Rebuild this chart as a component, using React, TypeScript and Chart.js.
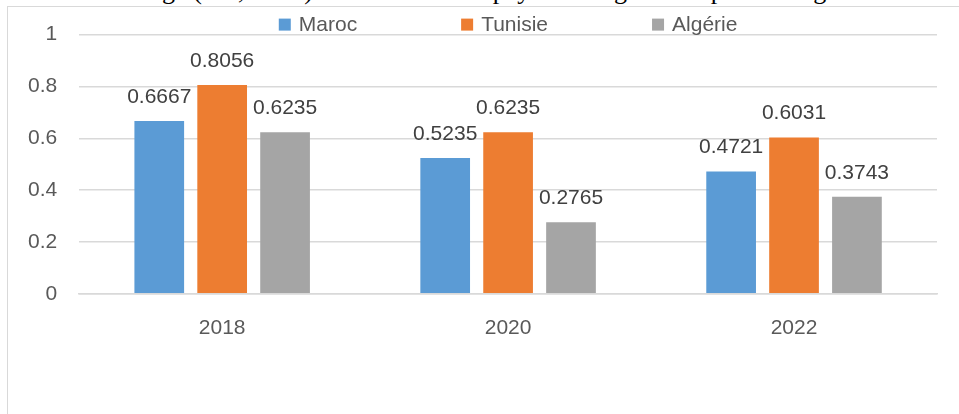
import React, { useEffect, useRef } from "react";
import { Chart, registerables } from "chart.js";

Chart.register(...registerables);

const categories = ["2018", "2020", "2022"];
const seriesNames = ["Maroc", "Tunisie", "Algérie"];
const maroc = [0.6667, 0.5235, 0.4721];
const tunisie = [0.8056, 0.6235, 0.6031];
const algerie = [0.6235, 0.2765, 0.3743];
const colors = ["#5B9BD5", "#ED7D31", "#A5A5A5"];
const yTicks = [0, 0.2, 0.4, 0.6, 0.8, 1];
const yTickLabels = ["0", "0.2", "0.4", "0.6", "0.8", "1"];
const titleText = "ge (IGI, ICHI) du Maroc et des pays du Maghreb en pourcentage";

const FONT = "'Liberation Sans', Arial, sans-serif";

const labelPlugin = {
  id: "barLabels",
  afterDatasetsDraw(chart: any) {
    const ctx = chart.ctx;
    ctx.save();
    ctx.font = `21px ${FONT}`;
    ctx.fillStyle = "#404040";
    ctx.textAlign = "center";
    ctx.textBaseline = "alphabetic";
    chart.data.datasets.forEach((ds: any, i: number) => {
      const meta = chart.getDatasetMeta(i);
      meta.data.forEach((el: any, j: number) => {
        ctx.fillText(String(ds.data[j]), el.x, el.y - 18);
      });
    });
    ctx.restore();
  },
};

const legendPlugin = {
  id: "customLegend",
  afterDraw(chart: any) {
    const ctx = chart.ctx;
    const area = chart.chartArea;
    ctx.save();
    ctx.font = `21px ${FONT}`;
    const box = 12;
    const gapText = 8;
    const gapItem = 104;
    const items = chart.data.datasets.map((ds: any) => ({
      label: ds.label,
      color: ds.backgroundColor,
      w: box + gapText + ctx.measureText(ds.label).width,
    }));
    const total = items.reduce((s: number, it: any) => s + it.w, 0) + gapItem * (items.length - 1);
    let x = (area.left + area.right) / 2 - total / 2;
    const yc = area.top - 10;
    ctx.textBaseline = "middle";
    ctx.textAlign = "left";
    items.forEach((it: any) => {
      ctx.fillStyle = it.color;
      ctx.fillRect(x, yc - box / 2, box, box);
      ctx.fillStyle = "#595959";
      ctx.fillText(it.label, x + box + gapText, yc + 1);
      x += it.w + gapItem;
    });
    ctx.restore();
  },
};

export default function App() {
  const ref = useRef<HTMLCanvasElement>(null);
  useEffect(() => {
    if (!ref.current) return;
    const data = [maroc, tunisie, algerie];
    const chart = new Chart(ref.current, {
      type: "bar",
      data: {
        labels: categories,
        datasets: seriesNames.map((name, i) => ({
          label: name,
          data: data[i],
          backgroundColor: colors[i],
          borderWidth: 0,
          categoryPercentage: 0.66,
          barPercentage: 0.79,
        })),
      },
      options: {
        animation: false,
        responsive: true,
        maintainAspectRatio: false,
        layout: { padding: { top: 30, right: 22, bottom: 59, left: 6 } },
        plugins: {
          legend: { display: false },
          title: { display: false },
          tooltip: { enabled: false },
        },
        scales: {
          x: {
            grid: { display: false },
            border: { display: true, color: "#d9d9d9", width: 1.5 },
            ticks: { color: "#595959", font: { family: FONT, size: 21 }, padding: 14 },
          },
          y: {
            min: 0,
            max: 1,
            afterBuildTicks: (axis: any) => {
              axis.ticks = yTicks.map((v) => ({ value: v }));
            },
            grid: { color: "#d9d9d9", lineWidth: 1.5, drawTicks: false },
            border: { display: false },
            ticks: {
              color: "#595959",
              font: { family: FONT, size: 21 },
              padding: 22,
              callback: (_v: any, idx: number) => yTickLabels[idx],
            },
          },
        },
      },
      plugins: [labelPlugin, legendPlugin],
    });
    return () => chart.destroy();
  }, []);

  return (
    <div style={{ position: "absolute", left: 0, top: 0, width: 959, height: 414, overflow: "hidden", background: "#fff" }}>
      <div
        style={{
          position: "absolute",
          left: 7,
          top: 6,
          width: 1000,
          height: 500,
          border: "1px solid #d9d9d9",
          boxSizing: "border-box",
        }}
      />
      <div
        style={{
          position: "absolute",
          left: 0,
          width: 1000,
          top: -22,
          textAlign: "center",
          fontFamily: "'Liberation Serif', 'Times New Roman', serif",
          fontSize: 26,
          lineHeight: "26px",
          whiteSpace: "nowrap",
          color: "#000",
        }}
      >
        {titleText}
      </div>
      <div style={{ position: "absolute", left: 0, top: 0, width: 959, height: 414 }}>
        <canvas ref={ref} />
      </div>
    </div>
  );
}
